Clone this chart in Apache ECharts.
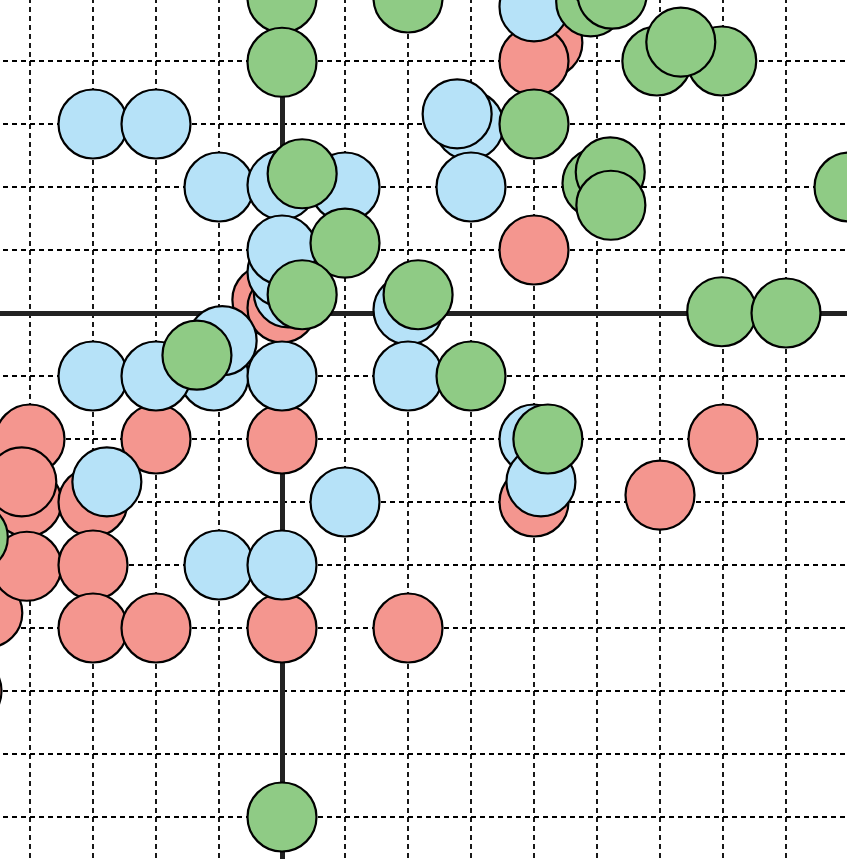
<!DOCTYPE html>
<html>
<head>
<meta charset="utf-8">
<script src="https://cdn.jsdelivr.net/npm/echarts@6/dist/echarts.min.js"></script>
<style>html,body{margin:0;padding:0;background:#fff;}#c{width:847px;height:859px;}</style>
</head>
<body>
<div id="c"></div>
<script>
var redPoints = [
  [4.22, 4.29], [4, 4], [4, 1], [-0.24, 0.21], [0, 0.08],
  [-4, -2], [-4.05, -3], [-4.13, -2.68], [-2, -2], [0, -2], [7, -2],
  [-3, -3], [4, -3], [6, -2.89], [-4.67, -4.76], [-4.05, -4.02], [-3, -4],
  [-3, -5], [-2, -5], [0, -5], [2, -5], [-5, -6]
];
var bluePoints = [
  [4, 4.86], [-3, 3], [-2, 3], [2.97, 2.98], [2.78, 3.16],
  [-1, 2], [0, 2.03], [1, 2], [3, 2],
  [0.1, 0.32], [0, 0.65], [0, 1], [2, 0.05],
  [-1.08, -1], [-0.95, -0.44], [-3, -1], [-2, -1], [0, -1], [2, -1],
  [4, -2], [4.11, -2.68], [-2.78, -2.68], [1, -3], [-1, -4], [0, -4]
];
var greenPoints = [
  [0, 5], [2, 5], [4.9, 4.94], [5.02, 5.41], [5.24, 5.06],
  [0, 3.98], [5.95, 4], [6.98, 4], [6.33, 4.3], [4, 3],
  [5, 2.06], [5.21, 2.24], [5.22, 1.71], [9, 2],
  [0.32, 2.21], [1, 1.11], [0.32, 0.29], [2.16, 0.29],
  [6.98, 0.02], [8, 0], [-1.35, -0.67], [3, -1], [4.22, -2],
  [-4.9, -3.56], [0, -8]
];
var seriesColors = ['#F4968F', '#B6E2F8', '#8FCB85'];

var chart = echarts.init(document.getElementById('c'), null, {renderer: 'canvas'});
function axisCfg(min, max) {
  return {
    type: 'value', min: min, max: max, interval: 1,
    axisLine: {show: true, onZero: true, lineStyle: {color: '#222', width: 5}},
    axisTick: {show: false},
    axisLabel: {show: false},
    splitLine: {show: true, lineStyle: {color: '#000', width: 1.8, type: [5, 4]}}
  };
}
function sc(data, color) {
  return {
    type: 'scatter', data: data, symbol: 'circle', symbolSize: 69, clip: false,
    itemStyle: {color: color, borderColor: '#000', borderWidth: 2.2, opacity: 1},
    emphasis: {disabled: true}
  };
}
chart.setOption({
  animation: false,
  backgroundColor: '#fff',
  grid: {left: -33, top: -65, width: 945, height: 945, containLabel: false, outerBoundsMode: 'none'},
  xAxis: axisCfg(-5, 10),
  yAxis: axisCfg(-9, 6),
  series: [sc(redPoints, seriesColors[0]), sc(bluePoints, seriesColors[1]), sc(greenPoints, seriesColors[2])]
});
</script>
</body>
</html>
